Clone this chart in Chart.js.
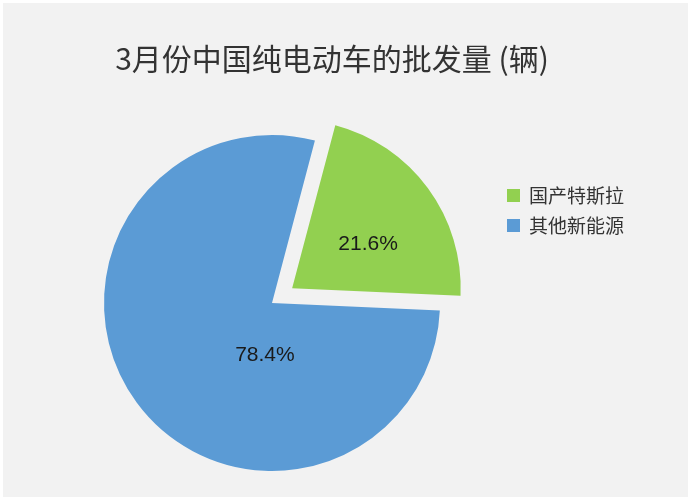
<!DOCTYPE html>
<html>
<head>
<meta charset="utf-8">
<script src="https://cdn.jsdelivr.net/npm/chart.js@4.4.1/dist/chart.umd.min.js"></script>
<style>
  html, body { margin: 0; padding: 0; background: #ffffff; }
  #wrap {
    position: absolute;
    left: 3px;
    top: 3px;
    width: 685px;
    height: 494px;
    background: #f2f2f2;
  }
</style>
</head>
<body>
<div id="wrap"><canvas id="pieChart"></canvas></div>
<script>
// ---- data ----
const chartTitle = "3月份中国纯电动车的批发量 (辆)";
const categories = ["国产特斯拉", "其他新能源"];
const shares = [21.6, 78.4];
const sliceColors = ["#92d050", "#5b9bd5"];

// title, legend and percent labels drawn on the chart canvas
const decorPlugin = {
  id: "decor",
  afterDatasetsDraw(chart, args, opts) {
    const ctx = chart.ctx;
    const meta = chart.getDatasetMeta(0);
    ctx.save();

    // percent labels inside slices
    ctx.font = '21px "Liberation Sans", Arial, sans-serif';
    ctx.fillStyle = "#1a1a1a";
    ctx.textAlign = "center";
    ctx.textBaseline = "middle";
    meta.data.forEach((arc, i) => {
      const p = arc.getProps(["x", "y", "startAngle", "endAngle", "outerRadius"], true);
      const mid = (p.startAngle + p.endAngle) / 2;
      const shift = (arc.options.offset || 0) / 4;
      const cx = p.x + Math.cos(mid) * shift;
      const cy = p.y + Math.sin(mid) * shift;
      const spot = opts.labelSpots[i];
      ctx.fillText(shares[i].toFixed(1) + "%", cx + spot[0] * p.outerRadius, cy + spot[1] * p.outerRadius);
    });

    // title
    ctx.font = '30px "Noto Sans CJK SC", sans-serif';
    ctx.fillStyle = "#333333";
    ctx.fillText(chartTitle, opts.titleX, opts.titleY);

    // legend
    ctx.font = '19px "Noto Sans CJK SC", sans-serif';
    ctx.textAlign = "left";
    chart.data.labels.forEach((label, i) => {
      const y = opts.legendY + i * opts.legendStep;
      ctx.fillStyle = chart.data.datasets[0].backgroundColor[i];
      ctx.fillRect(opts.legendX, y, 13, 13);
      ctx.fillStyle = "#333333";
      ctx.fillText(label, opts.legendX + 22, y + 6.5);
    });

    ctx.restore();
  },
};

const chart = new Chart(document.getElementById("pieChart"), {
  type: "pie",
  data: {
    labels: categories,
    datasets: [
      {
        data: shares,
        backgroundColor: sliceColors,
        borderWidth: 0,
        offset: [100, 0],
      },
    ],
  },
  options: {
    responsive: true,
    maintainAspectRatio: false,
    animation: false,
    events: [],
    rotation: 14.8,
    radius: 168,
    layout: { padding: { left: 88, right: 235, top: 120, bottom: 14 } },
    plugins: {
      legend: { display: false },
      title: { display: false },
      tooltip: { enabled: false },
      decor: {
        labelSpots: [[0.452, -0.262], [-0.042, 0.31]],
        titleX: 329,
        titleY: 56,
        legendX: 504,
        legendY: 186,
        legendStep: 30,
      },
    },
  },
  plugins: [decorPlugin],
});
</script>
</body>
</html>
